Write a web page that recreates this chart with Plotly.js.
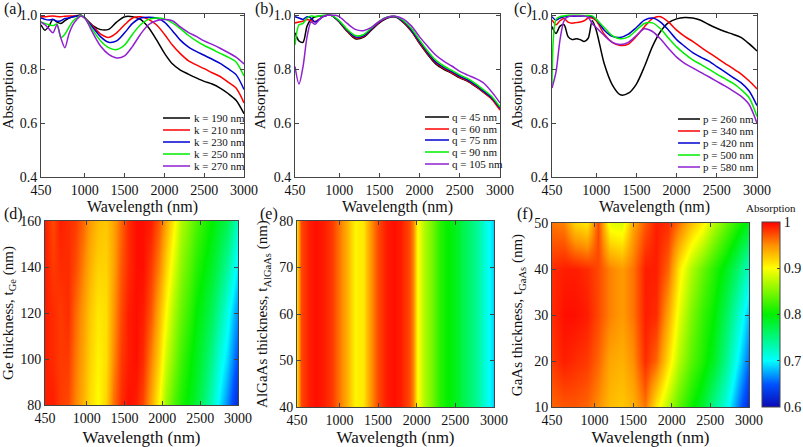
<!DOCTYPE html>
<html><head><meta charset="utf-8">
<script src="https://cdn.plot.ly/plotly-3.0.1.min.js"></script>
<style>html,body{margin:0;padding:0;background:#fff}#chart{width:803px;height:447px}</style>
</head><body><div id="chart"></div>
<script>
// ---------- line panels (a)-(c): wavelength grid ----------
const wavelength = [450,500,550,600,650,700,750,800,850,900,950,1000,1100,1200,1300,1400,1500,1600,1700,1800,1900,2000,2100,2200,2300,2400,2500,2600,2700,2800,2900,3000];

// (a) k sweep
const kNames = ['k = 190 nm','k = 210 nm','k = 230 nm','k = 250 nm','k = 270 nm'];
const k190 = [0.965,0.945,0.96,0.985,0.975,0.97,0.98,0.99,0.995,0.998,1.0,0.99,0.962,0.947,0.948,0.975,0.995,0.995,0.985,0.955,0.91,0.86,0.82,0.797,0.782,0.768,0.755,0.745,0.73,0.71,0.685,0.635];
const k210 = [0.995,0.995,0.997,0.998,0.996,0.995,0.997,0.998,0.998,0.999,1.0,0.99,0.96,0.93,0.918,0.935,0.965,0.99,0.995,0.985,0.965,0.93,0.89,0.858,0.832,0.816,0.802,0.787,0.773,0.752,0.73,0.675];
const k230 = [0.99,0.985,0.983,0.985,0.978,0.98,0.988,0.99,0.995,0.998,1.0,0.99,0.955,0.92,0.9,0.905,0.935,0.97,0.99,0.993,0.99,0.975,0.943,0.908,0.883,0.866,0.852,0.837,0.822,0.802,0.78,0.725];
const k250 = [0.975,0.97,0.965,0.962,0.968,0.918,0.93,0.955,0.978,0.99,1.0,0.99,0.945,0.905,0.88,0.873,0.89,0.93,0.965,0.985,0.99,0.987,0.972,0.951,0.926,0.905,0.888,0.874,0.859,0.845,0.827,0.775];
const k270 = [0.975,0.965,0.95,0.935,0.965,0.915,0.88,0.93,0.965,0.985,0.998,0.99,0.935,0.885,0.855,0.842,0.85,0.885,0.93,0.965,0.98,0.985,0.98,0.957,0.937,0.922,0.905,0.892,0.878,0.862,0.845,0.82];

// (b) q sweep
const qNames = ['q = 45 nm','q = 60 nm','q = 75 nm','q = 90 nm','q = 105 nm'];
const q45  = [0.935,0.905,0.9,0.96,0.985,0.995,0.997,0.998,1.0,1.0,0.99,0.975,0.94,0.913,0.918,0.945,0.972,0.99,0.994,0.973,0.94,0.895,0.855,0.82,0.8,0.785,0.768,0.755,0.735,0.713,0.69,0.655];
const q60  = [0.972,0.975,0.978,0.985,0.98,0.977,0.985,0.995,1.0,1.0,0.99,0.977,0.942,0.917,0.921,0.948,0.975,0.992,0.995,0.975,0.942,0.898,0.858,0.824,0.803,0.787,0.77,0.757,0.737,0.714,0.688,0.648];
const q75  = [0.995,0.99,0.985,0.995,0.99,0.975,0.985,0.995,1.0,1.0,0.99,0.978,0.945,0.92,0.924,0.95,0.977,0.993,0.995,0.977,0.945,0.903,0.862,0.828,0.807,0.791,0.774,0.76,0.741,0.718,0.693,0.655];
const q90  = [0.89,0.965,0.97,0.99,0.998,0.995,0.997,1.0,1.0,1.0,0.992,0.98,0.948,0.925,0.928,0.953,0.979,0.994,0.996,0.98,0.95,0.908,0.868,0.834,0.812,0.796,0.779,0.765,0.746,0.723,0.698,0.66];
const q105 = [0.81,0.745,0.81,0.92,0.975,0.967,0.983,0.996,1.0,1.0,1.0,0.995,0.97,0.948,0.943,0.955,0.978,0.993,0.997,0.986,0.96,0.92,0.885,0.853,0.83,0.812,0.792,0.778,0.765,0.748,0.715,0.675];

// (c) p sweep
const pNames = ['p = 260 nm','p = 340 nm','p = 420 nm','p = 500 nm','p = 580 nm'];
const p260 = [0.958,0.933,0.96,0.965,0.921,0.91,0.913,0.91,0.903,0.915,0.98,0.945,0.82,0.742,0.705,0.711,0.745,0.81,0.885,0.94,0.973,0.987,0.992,0.99,0.982,0.966,0.952,0.94,0.93,0.918,0.895,0.868];
const p340 = [0.983,0.965,0.98,0.988,0.975,0.971,0.973,0.975,0.98,0.99,0.99,0.98,0.93,0.9,0.888,0.893,0.922,0.958,0.988,0.995,0.975,0.945,0.922,0.903,0.882,0.862,0.842,0.822,0.803,0.783,0.757,0.727];
const p420 = [0.995,0.982,0.99,0.995,0.996,0.997,0.997,0.997,0.998,0.998,0.995,0.985,0.945,0.922,0.918,0.93,0.955,0.982,0.99,0.975,0.945,0.91,0.885,0.862,0.845,0.83,0.81,0.79,0.77,0.75,0.72,0.665];
const p500 = [0.745,0.985,0.995,0.998,1.0,1.0,1.0,1.0,0.999,0.999,0.998,0.985,0.955,0.925,0.913,0.92,0.945,0.97,0.972,0.95,0.915,0.883,0.857,0.835,0.818,0.8,0.782,0.765,0.748,0.725,0.695,0.625];
const p580 = [0.73,0.79,0.91,0.98,0.995,0.998,0.998,0.998,0.998,0.992,0.97,0.955,0.925,0.9,0.892,0.9,0.925,0.95,0.94,0.912,0.877,0.845,0.822,0.805,0.788,0.772,0.755,0.738,0.72,0.7,0.67,0.6];

const lineColors = ['#000000','#ff0000','#0000d0','#00ee00','#9020d0'];

// ---------- heatmap (d): Ge thickness ----------
const geWavelength = [450,550,650,750,850,950,1050,1150,1250,1350,1450,1550,1650,1750,1850,1950,2050,2150,2250,2350,2450,2550,2650,2750,2850,2950,3000];
const geThickness = [80,100,120,140,160];
const geAbs80  = [0.99,0.99,0.98,0.975,0.955,0.935,0.915,0.9,0.92,0.96,0.985,0.995,0.99,0.975,0.94,0.9,0.86,0.83,0.81,0.795,0.78,0.755,0.725,0.695,0.665,0.635,0.62];
const geAbs100 = [0.99,0.985,0.98,0.98,0.96,0.94,0.92,0.905,0.915,0.95,0.98,0.99,0.995,0.985,0.955,0.92,0.88,0.85,0.825,0.805,0.79,0.77,0.745,0.715,0.69,0.66,0.645];
const geAbs120 = [0.99,0.985,0.98,0.985,0.965,0.945,0.925,0.91,0.915,0.945,0.975,0.99,0.995,0.99,0.97,0.935,0.9,0.865,0.84,0.82,0.8,0.785,0.765,0.74,0.71,0.68,0.665];
const geAbs140 = [0.99,0.98,0.985,0.985,0.975,0.955,0.935,0.92,0.92,0.94,0.97,0.985,0.995,0.995,0.98,0.955,0.92,0.885,0.855,0.835,0.815,0.8,0.785,0.765,0.74,0.71,0.69];
const geAbs160 = [0.99,0.975,0.99,0.985,0.98,0.965,0.945,0.93,0.925,0.94,0.965,0.985,0.995,0.995,0.99,0.97,0.94,0.905,0.87,0.85,0.83,0.815,0.8,0.785,0.77,0.74,0.72];

// ---------- heatmap (e): AlGaAs thickness ----------
const alWavelength = [450,500,600,700,800,900,1000,1100,1200,1300,1400,1500,1600,1700,1800,1900,1950,2000,2100,2200,2300,2400,2500,2600,2700,2800,2900,3000];
const alThickness = [40,80];
const alAbsProfile = [0.92,0.975,0.99,0.995,0.99,0.98,0.96,0.935,0.905,0.91,0.945,0.975,0.99,0.995,0.99,0.975,0.955,0.905,0.87,0.845,0.815,0.8,0.79,0.77,0.755,0.735,0.71,0.685];

// ---------- heatmap (f): GaAs thickness ----------
const gaWavelength = [450,600,750,900,1050,1200,1350,1500,1650,1800,1950,2100,2250,2400,2550,2700,2850,3000];
const gaThickness = [10,20,30,40,50];
const gaAbs10 = [0.965,0.97,0.97,0.965,0.95,0.93,0.925,0.935,0.96,0.91,0.87,0.835,0.805,0.78,0.745,0.71,0.665,0.62];
const gaAbs20 = [0.98,0.99,0.985,0.98,0.965,0.94,0.935,0.95,0.985,0.965,0.915,0.87,0.835,0.81,0.785,0.745,0.7,0.655];
const gaAbs30 = [0.985,0.995,0.995,0.99,0.975,0.955,0.945,0.96,0.99,0.985,0.94,0.89,0.85,0.82,0.8,0.765,0.725,0.68];
const gaAbs40 = [0.985,0.99,0.99,0.985,0.975,0.955,0.945,0.96,0.99,0.99,0.965,0.91,0.87,0.84,0.815,0.79,0.76,0.72];
const gaAbs50 = [0.96,0.955,0.92,0.91,0.975,0.89,0.885,0.94,0.97,0.99,0.985,0.96,0.93,0.905,0.87,0.84,0.815,0.79];

const wlTicks = [450,1000,1500,2000,2500,3000];
const absTicks = [0.4,0.6,0.8,1.0];
const absTickText = ['0.4','0.6','0.8','1.0'];
const cbTicks = [0.6,0.7,0.8,0.9,1.0];
const cbTickText = ['0.6','0.7','0.8','0.9','1'];

// ---------- build ----------
const W = 803, H = 447;
const FONT = 'Liberation Serif, Times New Roman, serif';
const px = v => v / W;
const py = v => 1 - v / H;
const dx = (a, b) => [px(a), px(b)];
const dy = (top, bottom) => [py(bottom), py(top)];

const traces = [];
function addLines(series, names, ax) {
  series.forEach((ys, i) => traces.push({
    type: 'scatter', mode: 'lines', x: wavelength, y: ys, name: names[i],
    line: {color: lineColors[i], width: 1.5, shape: 'spline', smoothing: 0.8},
    xaxis: 'x' + ax, yaxis: 'y' + ax, showlegend: false
  }));
}
addLines([k190,k210,k230,k250,k270], kNames, '');
addLines([q45,q60,q75,q90,q105], qNames, '2');
addLines([p260,p340,p420,p500,p580], pNames, '3');

traces.push({type:'heatmap', x: geWavelength, y: geThickness,
  z: [geAbs80, geAbs100, geAbs120, geAbs140, geAbs160],
  coloraxis: 'coloraxis', zsmooth: 'best', xaxis: 'x4', yaxis: 'y4'});
traces.push({type:'heatmap', x: alWavelength, y: alThickness,
  z: alThickness.map(() => alAbsProfile),
  coloraxis: 'coloraxis', zsmooth: 'best', xaxis: 'x5', yaxis: 'y5'});
traces.push({type:'heatmap', x: gaWavelength, y: gaThickness,
  z: [gaAbs10, gaAbs20, gaAbs30, gaAbs40, gaAbs50],
  coloraxis: 'coloraxis', zsmooth: 'best', xaxis: 'x6', yaxis: 'y6'});

const baseAxis = {
  showline: true, linecolor: '#444', linewidth: 1, mirror: 'ticks',
  ticks: 'inside', ticklen: 4, tickcolor: '#444', tickwidth: 1,
  showgrid: false, zeroline: false,
  tickfont: {family: FONT, size: 14, color: '#111'}
};
function xAx(dom, anchor, bottomRow) {
  return Object.assign({}, baseAxis, {
    domain: dom, anchor: anchor, range: [450, 3000], tickvals: wlTicks,
    title: {text: 'Wavelength (nm)', font: {family: FONT, size: bottomRow ? 17 : 16, color: '#111'}, standoff: bottomRow ? 6 : 0}
  });
}
function yAbs(dom, anchor) {
  return Object.assign({}, baseAxis, {
    domain: dom, anchor: anchor, range: [0.4, 1.005], tickvals: absTicks, ticktext: absTickText,
    title: {text: 'Absorption', font: {family: FONT, size: 15, color: '#111'}, standoff: 4}
  });
}
function yThk(dom, anchor, rng, dt, title, stand) {
  return Object.assign({}, baseAxis, {
    domain: dom, anchor: anchor, range: rng, dtick: dt,
    title: {text: title, font: {family: FONT, size: 15, color: '#111'}, standoff: stand}
  });
}

const topY = dy(14, 177);
const layout = {
  width: W, height: H, autosize: false,
  margin: {l: 0, r: 0, t: 0, b: 0, autoexpand: false},
  paper_bgcolor: '#fff', plot_bgcolor: '#fff',
  font: {family: FONT, color: '#111'},
  xaxis: xAx(dx(41, 244), 'y', false),
  yaxis: yAbs(topY, 'x'),
  xaxis2: xAx(dx(295, 500), 'y2', false),
  yaxis2: yAbs(topY, 'x2'),
  xaxis3: xAx(dx(552, 757), 'y3', false),
  yaxis3: yAbs(topY, 'x3'),
  xaxis4: xAx(dx(45, 238), 'y4', true),
  yaxis4: yThk(dy(221, 405), 'x4', [80, 160], 20, 'Ge thickness, t<sub>Ge</sub> (nm)', 4),
  xaxis5: xAx(dx(297, 494), 'y5', true),
  yaxis5: yThk(dy(221, 407), 'x5', [40, 80], 10, 'AlGaAs thickness, t<sub>AlGaAs</sub> (nm)', 7),
  xaxis6: xAx(dx(552, 749), 'y6', true),
  yaxis6: yThk(dy(223, 407), 'x6', [10, 50], 10, 'GaAs thickness, t<sub>GaAs</sub> (nm)', 7),
  coloraxis: {
    cmin: 0.6, cmax: 1.0,
    colorscale: [[0,'#0a0ab4'],[0.12,'#0050ff'],[0.25,'#00ffff'],[0.5,'#00f000'],[0.75,'#ffff00'],[0.875,'#ff9000'],[1,'#ff0000']],
    colorbar: {
      x: px(762), xanchor: 'left', xpad: 0, y: py(314.5), yanchor: 'middle', ypad: 0,
      len: 185 / H, lenmode: 'fraction', thickness: 18, thicknessmode: 'pixels',
      outlinewidth: 1, outlinecolor: '#444',
      tickvals: cbTicks, ticktext: cbTickText, ticks: 'inside', ticklen: 3, tickcolor: '#444',
      tickfont: {family: FONT, size: 14, color: '#111'}
    }
  },
  shapes: [], annotations: []
};

// colorbar heading
layout.annotations.push({text: 'Absorption', xref: 'paper', yref: 'paper', x: px(771), y: py(208),
  xanchor: 'center', yanchor: 'middle', showarrow: false, font: {family: FONT, size: 11, color: '#111'}});

// panel labels
[['(a)', 2, 9], ['(b)', 253, 9], ['(c)', 512, 9], ['(d)', 2, 214], ['(e)', 258, 214], ['(f)', 515, 214]]
  .forEach(([t, x, y]) => layout.annotations.push({
    text: t, xref: 'paper', yref: 'paper', x: px(x), y: py(y), xanchor: 'left', yanchor: 'middle',
    showarrow: false, font: {family: FONT, size: 16, color: '#111'}
  }));

// compact legends
function addLegend(names, x0, x1, tx, rows) {
  names.forEach((n, i) => {
    layout.shapes.push({type: 'line', xref: 'paper', yref: 'paper', x0: px(x0), x1: px(x1), y0: py(rows[i]), y1: py(rows[i]),
      line: {color: lineColors[i], width: 1.5}});
    layout.annotations.push({text: n, xref: 'paper', yref: 'paper', x: px(tx), y: py(rows[i]), xanchor: 'left', yanchor: 'middle',
      showarrow: false, font: {family: FONT, size: 11, color: '#111'}});
  });
}
addLegend(kNames, 163, 190, 192, [118, 130, 142, 154, 166]);
addLegend(qNames, 425, 449, 450, [117, 129, 140, 152, 164]);
addLegend(pNames, 678, 700, 701, [119, 131, 143, 155, 167]);

Plotly.newPlot('chart', traces, layout, {staticPlot: true, displayModeBar: false});
</script>
</body></html>
